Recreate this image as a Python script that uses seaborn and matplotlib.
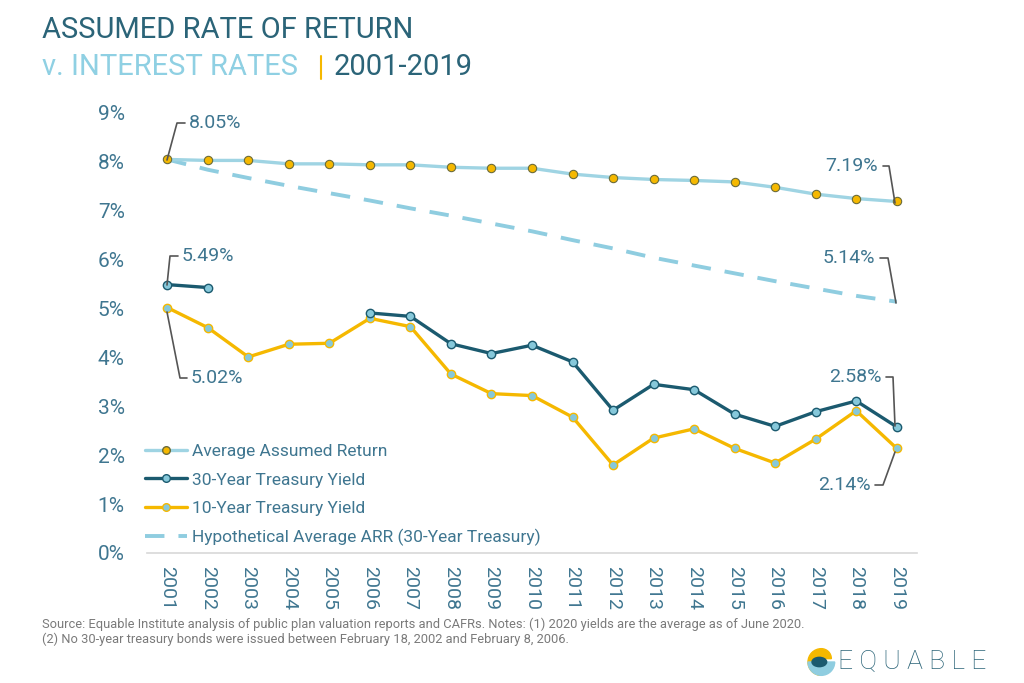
import numpy as np
import pandas as pd
import seaborn as sns
import matplotlib.pyplot as plt
from matplotlib.lines import Line2D
from matplotlib.patches import Wedge, Ellipse

years = list(range(2001, 2020))
avg_assumed_return = [8.05, 8.03, 8.03, 7.96, 7.96, 7.94, 7.94, 7.89, 7.87, 7.87,
                      7.75, 7.68, 7.64, 7.62, 7.59, 7.48, 7.34, 7.25, 7.19]
treasury_30y = [5.49, 5.43, np.nan, np.nan, np.nan, 4.91, 4.84, 4.28, 4.08, 4.25,
                3.91, 2.92, 3.45, 3.34, 2.84, 2.59, 2.89, 3.11, 2.58]
treasury_10y = [5.02, 4.61, 4.01, 4.27, 4.29, 4.80, 4.63, 3.66, 3.26, 3.22,
                2.78, 1.80, 2.35, 2.54, 2.14, 1.84, 2.33, 2.91, 2.14]
hypothetical_arr = [8.05, 7.84, 7.67, 7.51, 7.36, 7.21, 7.05, 6.90, 6.74, 6.58,
                    6.40, 6.23, 6.04, 5.88, 5.72, 5.56, 5.41, 5.26, 5.14]
y_ticks = list(range(0, 10))

ARR_BLUE = '#9fd4e3'
DASH_BLUE = '#8fcde0'
DARK_TEAL = '#1b5a6f'
GOLD = '#f5b800'
MARKER_BLUE = '#86c8da'
TEXT_BLUE = '#3f7690'
LEADER = '#555555'
LW = 2.4
MS = 6

df = pd.DataFrame({
    'year': years,
    'arr': avg_assumed_return,
    't30': treasury_30y,
    't10': treasury_10y,
    'hyp': hypothetical_arr,
})
df['t30_seg'] = df['t30'].isna().cumsum()

sns.set_theme(style='white')
plt.rcParams['font.family'] = ['Roboto', 'DejaVu Sans']

fig = plt.figure(figsize=(10.24, 6.83), dpi=100)
ax = fig.add_axes([147 / 1024, 1 - 553 / 683, 770 / 1024, 440 / 683])

# hypothetical ARR, dashed
sns.lineplot(data=df, x='year', y='hyp', ax=ax, color=DASH_BLUE, lw=LW + 0.4,
             dashes=False, linestyle=(0, (5, 3.6)), zorder=2)

# 10-year treasury
sns.lineplot(data=df, x='year', y='t10', ax=ax, color=GOLD, lw=LW, zorder=3,
             marker='o', markersize=MS, markerfacecolor=MARKER_BLUE,
             markeredgecolor=GOLD, markeredgewidth=1)

# 30-year treasury, drawn per segment so the gap stays open
t30 = df.dropna(subset=['t30'])
for seg, part in t30.groupby('t30_seg'):
    sns.lineplot(data=part, x='year', y='t30', ax=ax, color=DARK_TEAL, lw=LW,
                 zorder=4, marker='o', markersize=MS, markerfacecolor=MARKER_BLUE,
                 markeredgecolor=DARK_TEAL, markeredgewidth=1)

# average assumed return
sns.lineplot(data=df, x='year', y='arr', ax=ax, color=ARR_BLUE, lw=LW, zorder=5,
             marker='o', markersize=MS, markerfacecolor=GOLD,
             markeredgecolor='#6b6b3a', markeredgewidth=0.8)

ax.set_xlim(2000.5, 2019.5)
ax.set_ylim(0, 9)
ax.set_xticks(years)
ax.set_xticklabels([str(y) for y in years], rotation=-90, fontsize=14,
                   color=TEXT_BLUE)
ax.set_yticks(y_ticks)
ax.set_yticklabels([f'{t}%' for t in y_ticks], fontsize=15, color=TEXT_BLUE)
ax.tick_params(axis='y', pad=16, length=0)
ax.tick_params(axis='x', pad=9, length=0)
ax.set_xlabel('')
ax.set_ylabel('')
ax.grid(False)
for side in ['top', 'right', 'left']:
    ax.spines[side].set_visible(False)
ax.spines['bottom'].set_color('#d8d8d8')
ax.spines['bottom'].set_linewidth(1.2)
ax.patch.set_alpha(0)


def leader(points, text, text_xy, ha):
    # elbow leader line in pixel coords (from top-left)
    xs = [p[0] / 1024 for p in points]
    ys = [1 - p[1] / 683 for p in points]
    fig.add_artist(Line2D(xs, ys, color=LEADER, lw=1.2, zorder=10))
    fig.text(text_xy[0] / 1024, 1 - text_xy[1] / 683, text, ha=ha,
             va='center', fontsize=14, color=TEXT_BLUE)


leader([(167, 160), (177, 123), (185, 123)], '8.05%', (189, 123), 'left')
leader([(167, 285), (170, 256), (178, 256)], '5.49%', (182, 256), 'left')
leader([(167, 312), (180, 378), (187, 378)], '5.02%', (191, 378), 'left')
leader([(883, 166), (889, 166), (895, 203)], '7.19%', (878, 166), 'right')
leader([(880, 258), (888, 258), (896, 303)], '5.14%', (875, 258), 'right')
leader([(886, 377), (893, 377), (895, 426)], '2.58%', (882, 377), 'right')
leader([(875, 485), (883, 485), (895, 452)], '2.14%', (871, 485), 'right')

handles = [
    Line2D([], [], color=ARR_BLUE, lw=LW, marker='o', markersize=MS - 0.5,
           markerfacecolor=GOLD, markeredgecolor='#6b6b3a'),
    Line2D([], [], color=DARK_TEAL, lw=LW, marker='o', markersize=MS - 0.5,
           markerfacecolor=MARKER_BLUE, markeredgecolor=DARK_TEAL),
    Line2D([], [], color=GOLD, lw=LW, marker='o', markersize=MS - 0.5,
           markerfacecolor=MARKER_BLUE, markeredgecolor=GOLD),
    Line2D([], [], color=DASH_BLUE, lw=LW + 0.4, linestyle=(0, (5, 3.6))),
]
labels = ['Average Assumed Return', '30-Year Treasury Yield',
          '10-Year Treasury Yield', 'Hypothetical Average ARR (30-Year Treasury)']
leg = ax.legend(handles, labels, loc='upper left',
                bbox_to_anchor=(145 / 1024, 1 - 444 / 683),
                bbox_transform=fig.transFigure, frameon=False, fontsize=12.5,
                handlelength=2.4, handletextpad=0.3, labelspacing=0.76,
                borderaxespad=0, borderpad=0)
for t in leg.get_texts():
    t.set_color(TEXT_BLUE)

# title
fig.text(42 / 1024, 1 - 30 / 683, 'ASSUMED RATE OF RETURN', fontsize=21,
         color='#2b6478', va='center', ha='left')
fig.text(42 / 1024, 1 - 67 / 683, 'v. INTEREST RATES', fontsize=21,
         color='#8fd0e3', va='center', ha='left')
fig.add_artist(Line2D([321 / 1024, 321 / 1024], [1 - 56 / 683, 1 - 79 / 683],
                      color=GOLD, lw=1.5))
fig.text(334 / 1024, 1 - 67 / 683, '2001-2019', fontsize=21,
         color='#2b6478', va='center', ha='left')

# footer
fig.text(42 / 1024, 1 - 624 / 683,
         'Source: Equable Institute analysis of public plan valuation reports and CAFRs. '
         'Notes: (1) 2020 yields are the average as of June 2020.',
         fontsize=9.3, color='#7a7a7a', va='center', ha='left')
fig.text(42 / 1024, 1 - 639 / 683,
         '(2) No 30-year treasury bonds were issued between February 18, 2002 '
         'and February 8, 2006.',
         fontsize=9.3, color='#7a7a7a', va='center', ha='left')

# logo
lax = fig.add_axes([804 / 1024, 1 - 681 / 683, 32 / 1024, 38 / 683])
lax.set_xlim(-1.2, 1.2)
lax.set_ylim(-1.4, 1.4)
lax.set_aspect('equal')
lax.axis('off')
lax.add_patch(Wedge((0.1, 0), 1.0, 90, 270, color=GOLD))
lax.add_patch(Wedge((0.1, 0), 1.0, 180, 360, color='#8fcde0'))
lax.add_patch(Wedge((0.1, 0.25), 0.75, 0, 90, color=GOLD))
lax.add_patch(Ellipse((-0.05, 0.0), 1.1, 0.7, color=DARK_TEAL))
fig.text(838 / 1024, 1 - 662 / 683, 'E Q U A B L E', fontsize=19,
         color='#2b6478', va='center', ha='left', fontweight='light')

fig.savefig('out.png', dpi=100)
